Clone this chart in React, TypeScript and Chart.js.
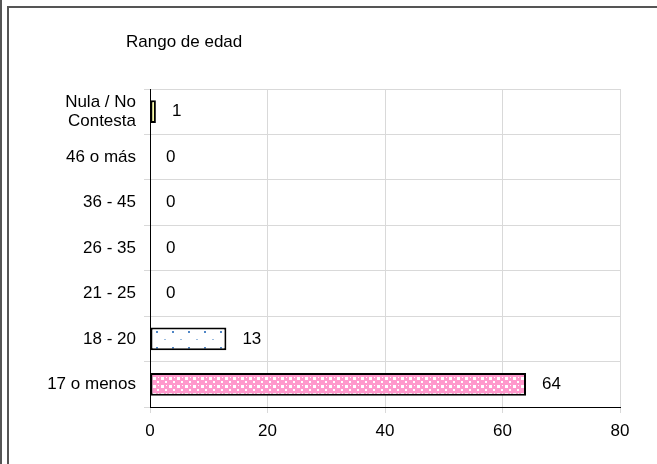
import React, { useEffect, useRef } from 'react';
import { Chart, registerables } from 'chart.js';
Chart.register(...registerables);

const categories: (string | string[])[] = [['Nula / No', 'Contesta'], '46 o más', '36 - 45', '26 - 35', '21 - 25', '18 - 20', '17 o menos'];
const values = [1, 0, 0, 0, 0, 13, 64];
const xTickValues = [0, 20, 40, 60, 80];
const chartTitle = 'Rango de edad';

function makePinkPattern(): CanvasPattern | string {
  const c = document.createElement('canvas');
  c.width = 8; c.height = 8;
  const g = c.getContext('2d');
  if (!g) return '#ff99cc';
  g.fillStyle = '#ff99cc';
  g.fillRect(0, 0, 8, 8);
  g.fillStyle = '#ffffff';
  g.fillRect(1, 1, 3, 3);
  g.fillRect(5, 5, 2, 2);
  g.fillRect(6, 1, 1, 1);
  const p = g.createPattern(c, 'repeat');
  return p || '#ff99cc';
}

function makeDotPattern(): CanvasPattern | string {
  const c = document.createElement('canvas');
  c.width = 16; c.height = 16;
  const g = c.getContext('2d');
  if (!g) return '#ffffff';
  g.fillStyle = '#ffffff';
  g.fillRect(0, 0, 16, 16);
  g.fillStyle = '#9dbde0';
  g.fillRect(4, 3, 2, 1);
  g.fillStyle = '#4f86c6';
  g.fillRect(12, 11, 2, 2);
  const p = g.createPattern(c, 'repeat');
  return p || '#ffffff';
}

const framePlugin = {
  id: 'frame',
  beforeDraw(chart: any) {
    const ctx = chart.ctx;
    ctx.save();
    ctx.fillStyle = '#ffffff';
    ctx.fillRect(0, 0, chart.width, chart.height);
    ctx.strokeStyle = '#555555';
    ctx.lineWidth = 2;
    ctx.beginPath();
    ctx.moveTo(1, 0); ctx.lineTo(1, chart.height);
    ctx.moveTo(8, chart.height); ctx.lineTo(8, 7); ctx.lineTo(chart.width, 7);
    ctx.stroke();
    ctx.fillStyle = '#000000';
    ctx.font = '17px "Liberation Sans", Arial, sans-serif';
    ctx.textAlign = 'left';
    ctx.textBaseline = 'middle';
    ctx.fillText(chartTitle, 126, 42);
    ctx.restore();
  },
};

const valueLabelPlugin = {
  id: 'valueLabels',
  afterDatasetsDraw(chart: any) {
    const ctx = chart.ctx;
    const meta = chart.getDatasetMeta(0);
    ctx.save();
    ctx.fillStyle = '#000000';
    ctx.font = '17px "Liberation Sans", Arial, sans-serif';
    ctx.textAlign = 'left';
    ctx.textBaseline = 'middle';
    meta.data.forEach((el: any, i: number) => {
      ctx.fillText(String(values[i]), el.x + 16, el.y);
    });
    ctx.restore();
  },
};

export default function App() {
  const ref = useRef<HTMLCanvasElement | null>(null);
  useEffect(() => {
    document.body.style.margin = '0';
    const canvas = ref.current;
    if (!canvas) return;
    const colors = [
      '#ffff99',
      '#ffffff', '#ffffff', '#ffffff', '#ffffff',
      makeDotPattern(),
      makePinkPattern(),
    ];
    const font = { family: '"Liberation Sans", Arial, sans-serif', size: 17 };
    const chart = new Chart(canvas, {
      type: 'bar',
      data: {
        labels: categories,
        datasets: [{
          data: values,
          backgroundColor: colors as any,
          borderColor: '#000000',
          borderWidth: 2,
          borderSkipped: false,
          barPercentage: 0.5,
          categoryPercentage: 1,
        }],
      },
      options: {
        indexAxis: 'y',
        animation: false,
        responsive: false,
        maintainAspectRatio: false,
        layout: { padding: { top: 89, right: 37, left: 0, bottom: 0 } },
        plugins: {
          legend: { display: false },
          tooltip: { enabled: false },
          title: { display: false },
        },
        scales: {
          x: {
            min: 0,
            max: 80,
            afterBuildTicks: (scale: any) => {
              scale.ticks = xTickValues.map((v) => ({ value: v }));
            },
            afterFit: (scale: any) => { scale.height = 57; },
            grid: { color: '#d9d9d9', tickLength: 6, drawTicks: true },
            border: { color: '#000000', width: 1 },
            ticks: { color: '#000000', font, padding: 8, maxRotation: 0 },
          },
          y: {
            afterFit: (scale: any) => { scale.width = 150; },
            grid: { color: '#d9d9d9', tickLength: 6, offset: true },
            border: { color: '#000000', width: 1 },
            ticks: { color: '#000000', font: { ...font, lineHeight: 1.12 }, padding: 8 },
          },
        },
      },
      plugins: [framePlugin, valueLabelPlugin],
    });
    return () => chart.destroy();
  }, []);
  return <canvas ref={ref} width={657} height={464} style={{ display: 'block', width: 657, height: 464 }} />;
}
